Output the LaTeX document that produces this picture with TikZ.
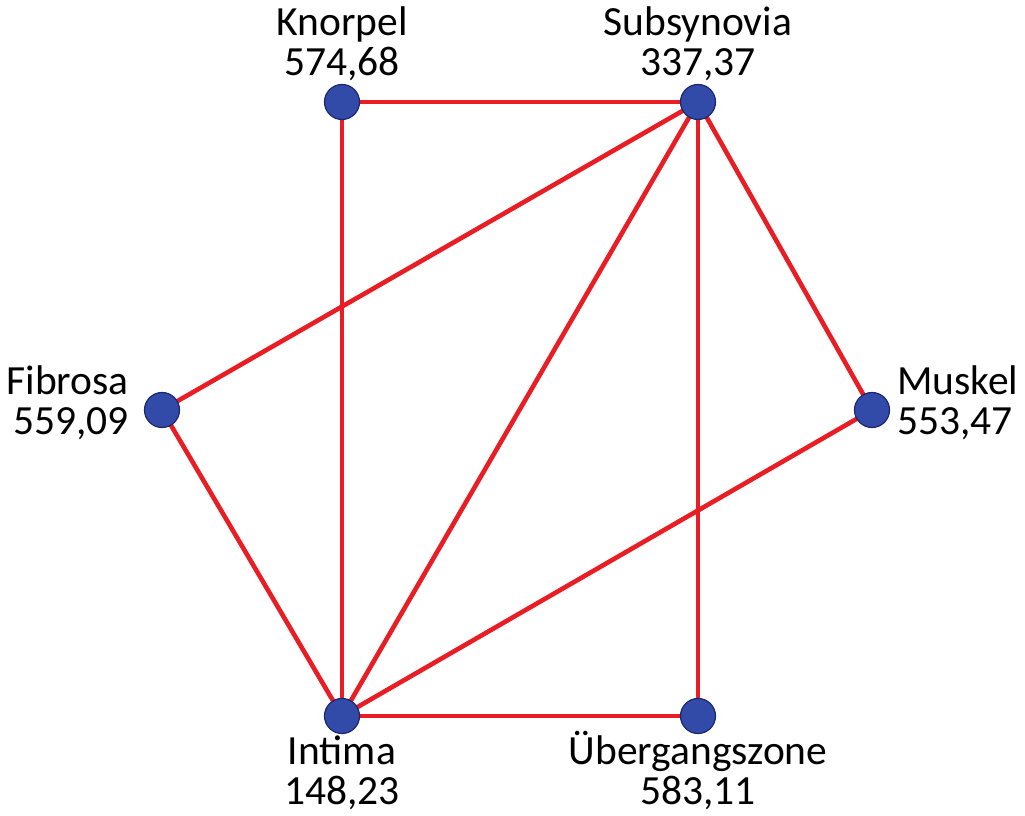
\documentclass[tikz,border=0pt]{standalone}
\usepackage{fontspec}
\setmainfont{Carlito}
\usetikzlibrary{backgrounds}
\definecolor{nodeblue}{RGB}{50,74,168}
\definecolor{nodeedge}{RGB}{28,38,110}
\definecolor{edgered}{RGB}{232,30,36}
\begin{document}
\begin{tikzpicture}[x=1pt,y=1pt,
  vert/.style={circle,fill=nodeblue,draw=nodeedge,line width=1.2pt,minimum size=35pt,inner sep=0pt},
  lbl/.style={font=\fontsize{41.5}{40}\selectfont,inner sep=0pt,anchor=base},
  link/.style={draw=edgered,line width=4.6pt}]
\useasboundingbox (0,0) rectangle (1025,816);
\node[vert] (kn) at (342,714) {};
\node[vert] (su) at (698,714) {};
\node[vert] (fi) at (162,406) {};
\node[vert] (mu) at (872,406) {};
\node[vert] (in) at (342,100) {};
\node[vert] (ub) at (698,100) {};
\begin{scope}[on background layer]
\path[link] (kn.center) -- (su.center);
\path[link] (kn.center) -- (in.center);
\path[link] (su.center) -- (fi.center);
\path[link] (su.center) -- (in.center);
\path[link] (su.center) -- (ub.center);
\path[link] (su.center) -- (mu.center);
\path[link] (fi.center) -- (in.center);
\path[link] (in.center) -- (mu.center);
\path[link] (in.center) -- (ub.center);
\end{scope}
\node[lbl,align=center] (lkn) at (342,740) {Knorpel\\574,68};
\node[lbl,align=center] (lsu) at (698,740) {Subsynovia\\337,37};
\node[lbl,align=right,anchor=base east] (lfi) at (129,381) {Fibrosa\\559,09};
\node[lbl,align=left,anchor=base west] (lmu) at (897,381) {Muskel\\553,47};
\node[lbl,align=center] (lin) at (342,11) {Intima\\148,23};
\node[lbl,align=center] (lub) at (698,11) {Übergangszone\\583,11};
\end{tikzpicture}
\end{document}
